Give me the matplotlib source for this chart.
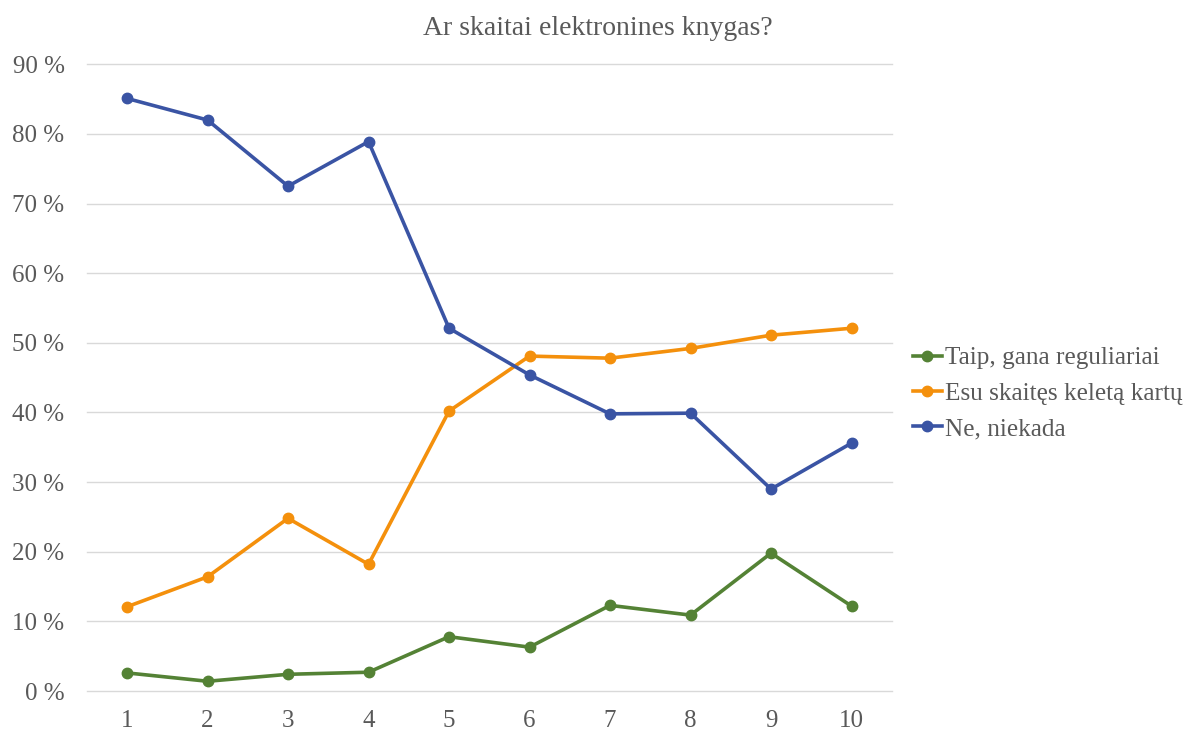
import matplotlib.pyplot as plt

# Apklausos duomenys (procentais)
klases = [1, 2, 3, 4, 5, 6, 7, 8, 9, 10]
taip = [2.6, 1.4, 2.4, 2.7, 7.8, 6.3, 12.3, 10.9, 19.8, 12.2]
keleta = [12.1, 16.4, 24.8, 18.2, 40.2, 48.1, 47.8, 49.2, 51.1, 52.1]
niekada = [85.1, 82.0, 72.5, 78.9, 52.1, 45.4, 39.8, 39.9, 29.0, 35.6]
y_ticks = [0, 10, 20, 30, 40, 50, 60, 70, 80, 90]

plt.rcParams['font.family'] = ['Liberation Serif', 'DejaVu Serif']
pilka = '#595959'

fig = plt.figure(figsize=(11.89, 7.31), dpi=100)
ax = fig.add_axes([0.073, 0.0547, 0.677, 0.8573])

ax.plot(klases, taip, color='#548235', lw=2.6, marker='o', ms=7.5, label='Taip, gana reguliariai')
ax.plot(klases, keleta, color='#F4900C', lw=2.6, marker='o', ms=7.5, label='Esu skaitęs keletą kartų')
ax.plot(klases, niekada, color='#3A54A4', lw=2.6, marker='o', ms=7.5, label='Ne, niekada')

ax.set_xlim(0.5, 10.5)
ax.set_ylim(0, 90)
ax.set_xticks(klases)
ax.set_yticks(y_ticks)
ax.set_yticklabels([f'{v} %' for v in y_ticks])
ax.grid(axis='y', color='#d9d9d9', lw=1)
for g in ax.get_ygridlines():
    g.set_clip_on(False)
ax.set_axisbelow(True)
for s in ax.spines.values():
    s.set_visible(False)
ax.tick_params(length=0, labelsize=18, colors=pilka)
ax.tick_params(axis='y', pad=16)
ax.tick_params(axis='x', pad=14)

fig.suptitle('Ar skaitai elektronines knygas?', x=0.503, y=0.978, fontsize=20, color=pilka)

ax.legend(loc='center left', bbox_to_anchor=(1.026, 0.475), frameon=False, fontsize=18.2,
          labelcolor=pilka, handlelength=1.15, handletextpad=0.12, labelspacing=0.5,
          borderaxespad=0, borderpad=0)

fig.savefig('out.png')
